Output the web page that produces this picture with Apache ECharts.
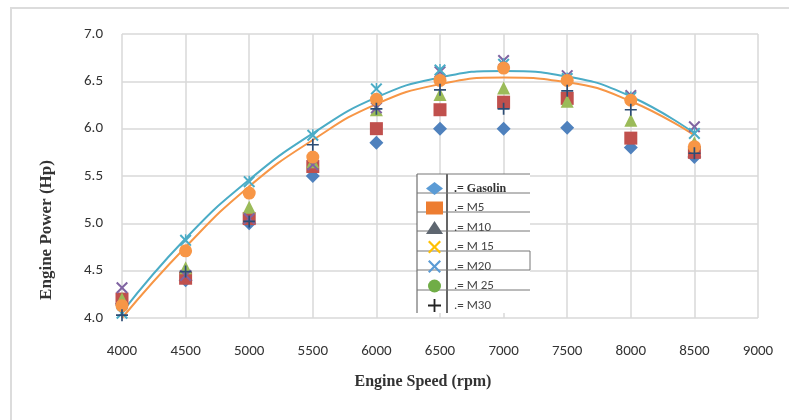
<!DOCTYPE html>
<html><head><meta charset="utf-8">
<script src="https://cdn.jsdelivr.net/npm/echarts@6/dist/echarts.min.js"></script>
<style>html,body{margin:0;padding:0;background:#fff}#c{width:789px;height:420px}</style>
</head><body><div id="c"></div>
<script>
var rpm = [4000, 4500, 5000, 5500, 6000, 6500, 7000, 7500, 8000, 8500];
var gasolin = [4.15, 4.40, 5.00, 5.50, 5.85, 6.00, 6.00, 6.01, 5.80, 5.70];
var m5  = [4.20, 4.42, 5.05, 5.60, 6.00, 6.20, 6.28, 6.32, 5.90, 5.75];
var m10 = [4.20, 4.53, 5.17, 5.65, 6.20, 6.36, 6.43, 6.29, 6.09, 5.85];
var m15 = [4.32, 4.45, 5.05, 5.62, 6.22, 6.60, 6.72, 6.56, 6.35, 6.02];
var m20 = [4.05, 4.82, 5.44, 5.93, 6.42, 6.62, 6.68, 6.53, 6.33, 5.95];
var m25 = [4.13, 4.71, 5.32, 5.70, 6.31, 6.51, 6.64, 6.51, 6.30, 5.81];
var m30 = [4.03, 4.49, 5.02, 5.83, 6.21, 6.41, 6.21, 6.40, 6.20, 5.74];
var trendM20 = [4.06, 4.84, 5.46, 5.95, 6.33, 6.54, 6.61, 6.55, 6.34, 5.95];
var trendM25 = [4.00, 4.75, 5.39, 5.88, 6.26, 6.47, 6.54, 6.49, 6.29, 5.93];
var seriesNames = ['Gasolin', 'M5', 'M10', 'M 15', 'M20', 'M 25', 'M30'];
var xTicks = {min: 4000, max: 9000, step: 500};
var yTicks = {min: 4.0, max: 7.0, step: 0.5};

var X = 'path://M0,1.2L1.2,0L5,3.8L8.8,0L10,1.2L6.2,5L10,8.8L8.8,10L5,6.2L1.2,10L0,8.8L3.8,5Z';
var STAR = 'path://M0,1.2L1.2,0L4.4,3.2V0H5.6V3.2L8.8,0L10,1.2L6.2,5L10,8.8L8.8,10L5,6.2L1.2,10L0,8.8L3.8,5Z';
var PLUS = 'path://M4.3,0H5.7V4.3H10V5.7H5.7V10H4.3V5.7H0V4.3H4.3Z';

function pts(v){ return rpm.map(function(r,i){ return [r, v[i]]; }); }
function sc(name, data, symbol, size, color){
  return {type:'scatter', name:name, data:pts(data), symbol:symbol, symbolSize:size,
    itemStyle:{color:color, opacity:1}, z:3};
}
function trend(data, color){
  return {type:'line', data:pts(data), smooth:true, symbol:'none', silent:true,
    lineStyle:{color:color, width:2}, z:2};
}

var chart = echarts.init(document.getElementById('c'));
var tickFont = {fontFamily:'Carlito, "Liberation Sans", Arial, sans-serif', fontSize:15, color:'#333'};
var legLines = [174, 193, 212, 231, 251, 270, 290].map(function(y){
  return {type:'line', z:10, shape:{x1:417, y1:y, x2:530, y2:y}, style:{stroke:'#777', lineWidth:1}};
});
chart.setOption({
  animation:false,
  grid:{left:122, right:31, top:34, bottom:102},
  xAxis:{type:'value', min:xTicks.min, max:xTicks.max, interval:xTicks.step,
    axisLine:{show:false}, axisTick:{show:false},
    splitLine:{show:true, lineStyle:{color:'#d9d9d9', width:1.5}},
    axisLabel:Object.assign({margin:26, formatter:function(v){return String(v);}}, tickFont)},
  yAxis:{type:'value', min:yTicks.min, max:yTicks.max, interval:yTicks.step,
    axisLine:{show:false}, axisTick:{show:false},
    splitLine:{show:true, lineStyle:{color:'#d9d9d9', width:1.5}},
    axisLabel:Object.assign({margin:19, formatter:function(v){return v.toFixed(1);}}, tickFont)},
  legend:{orient:'vertical', left:421, top:177, itemWidth:17, itemHeight:13, itemGap:6.5, z:20,
    formatter:function(n){ return '.= ' + n; },
    textStyle:{fontFamily:'Carlito, "Liberation Sans", Arial, sans-serif', fontSize:13, color:'#444', padding:[0,0,0,6]},
    data:[
      {name:'Gasolin', icon:'diamond', itemStyle:{color:'#5B9BD5'}, textStyle:{fontFamily:'"Liberation Serif", serif', fontWeight:'bold', fontSize:12, color:'#333'}},
      {name:'M5', icon:'rect', itemStyle:{color:'#ED7D31'}},
      {name:'M10', icon:'triangle', itemStyle:{color:'#5E6670'}},
      {name:'M 15', icon:X, itemStyle:{color:'#FFC000'}},
      {name:'M20', icon:X, itemStyle:{color:'#5B9BD5'}},
      {name:'M 25', icon:'circle', itemStyle:{color:'#70AD47'}},
      {name:'M30', icon:PLUS, itemStyle:{color:'#222'}}
    ]},
  graphic:[
    {type:'rect', z:-10, shape:{x:11, y:8, width:800, height:430}, style:{fill:'none', stroke:'#dcdcdc', lineWidth:2}},
    {type:'text', x:47, y:230, rotation:Math.PI/2, style:{text:'Engine Power (Hp)', font:'bold 17px "Liberation Serif", "Times New Roman", serif', fill:'#333', align:'center', verticalAlign:'middle'}},
    {type:'text', x:423, y:382, style:{text:'Engine Speed (rpm)', font:'bold 16px "Liberation Serif", "Times New Roman", serif', fill:'#333', align:'center', verticalAlign:'middle'}},
    {type:'rect', z:1, shape:{x:417, y:174, width:113, height:139}, style:{fill:'#fff'}},
    {type:'line', z:10, shape:{x1:417, y1:174, x2:417, y2:313}, style:{stroke:'#555', lineWidth:1}},
    {type:'line', z:10, shape:{x1:447, y1:174, x2:447, y2:313}, style:{stroke:'#333', lineWidth:1.5}},
    {type:'line', z:10, shape:{x1:530, y1:251, x2:530, y2:270}, style:{stroke:'#777', lineWidth:1}}
  ].concat(legLines),
  series:[
    trend(trendM20, '#4BACC6'),
    trend(trendM25, '#F79646'),
    sc(seriesNames[0], gasolin, 'diamond', 14, '#4F81BD'),
    sc(seriesNames[1], m5, 'rect', 13, '#C0504D'),
    sc(seriesNames[2], m10, 'triangle', 13, '#9BBB59'),
    sc(seriesNames[3], m15, X, 12, '#8064A2'),
    sc(seriesNames[4], m20, STAR, 12, '#4BACC6'),
    sc(seriesNames[5], m25, 'circle', 13, '#F79646'),
    sc(seriesNames[6], m30, PLUS, 12, '#2C4D75')
  ]
});
</script></body></html>
